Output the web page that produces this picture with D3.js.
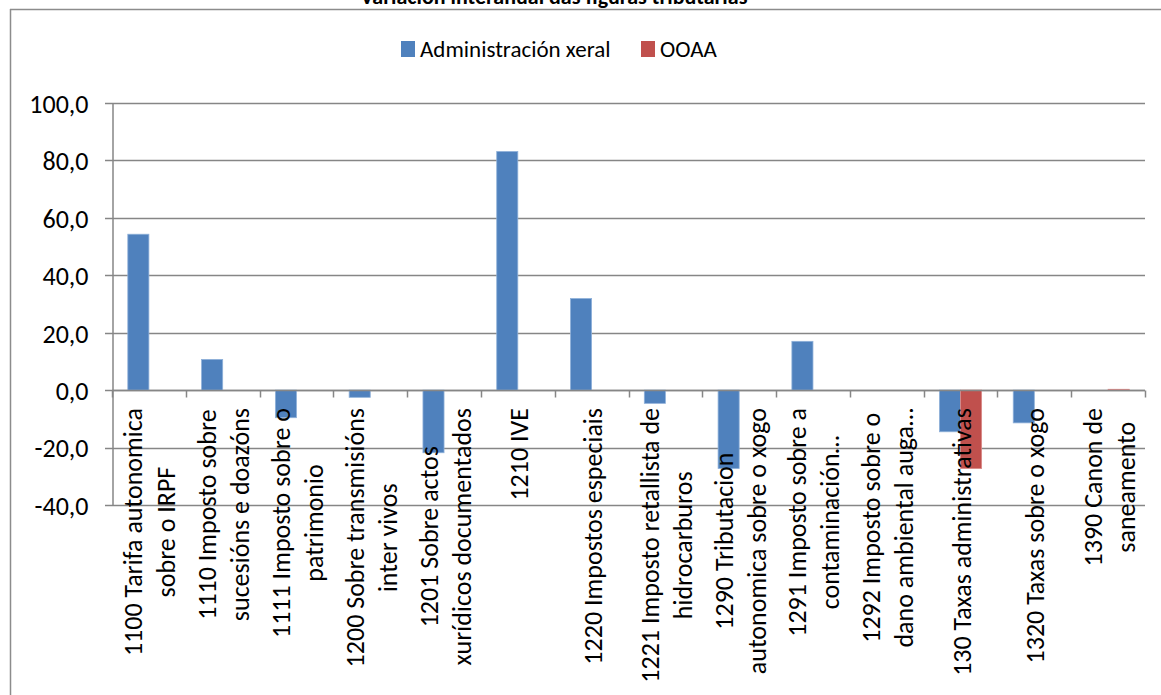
<!DOCTYPE html>
<html>
<head>
<meta charset="utf-8">
<script src="https://cdn.jsdelivr.net/npm/d3@7"></script>
<style>
  html, body { margin: 0; padding: 0; background: #fff; }
  svg text { font-family: Carlito, Lato, "Liberation Sans", sans-serif; }
</style>
</head>
<body>
<div id="chart"></div>
<script>
// data
var categories = [
  ["1100 Tarifa autonomica", "sobre o IRPF"],
  ["1110 Imposto sobre", "sucesións e doazóns"],
  ["1111 Imposto sobre o", "patrimonio"],
  ["1200 Sobre transmisións", "inter vivos"],
  ["1201 Sobre actos", "xurídicos documentados"],
  ["1210 IVE"],
  ["1220 Impostos especiais"],
  ["1221 Imposto retallista de", "hidrocarburos"],
  ["1290 Tributacion", "autonomica sobre o xogo"],
  ["1291 Imposto sobre a", "contaminación…"],
  ["1292 Imposto sobre o", "dano ambiental auga…"],
  ["130 Taxas administrativas"],
  ["1320 Taxas sobre o xogo"],
  ["1390 Canon de", "saneamento"]
];
var seriesNames = ["Administración xeral", "OOAA"];
var adminXeral = [54.3, 10.7, -9.6, -2.5, -21.8, 83.1, 31.9, -4.6, -27.3, 17.0, 0, -14.5, -11.4, 0];
var ooaa = [0, 0, 0, 0, 0, 0, 0, 0, 0, 0, 0, -27.3, 0, 0.3];
var yTicks = [-40, -20, 0, 20, 40, 60, 80, 100];

var colors = ["#4F81BD", "#C0504D"];
var edge = ["#8EB0D9", "#D98A88"];

var width = 1161, height = 695;
var margin = { top: 103, right: 16, bottom: 190, left: 112 };

var svg = d3.select("#chart")
    .append("svg")
    .attr("width", width)
    .attr("height", height);

// chart frame (only top and left are in the photo)
svg.append("line").attr("x1", 10).attr("x2", width).attr("y1", 9.5).attr("y2", 9.5)
    .style("stroke", "#8c8c8c").style("stroke-width", 1.5);
svg.append("line").attr("x1", 10.5).attr("x2", 10.5).attr("y1", 9).attr("y2", height)
    .style("stroke", "#8c8c8c").style("stroke-width", 1.5);

// title, cut off at the top like the original
svg.append("text")
    .text("Variación interanual das figuras tributarias")
    .attr("x", 554)
    .attr("y", 4)
    .attr("text-anchor", "middle")
    .style("font-weight", "bold")
    .style("font-size", "22px");

var x = d3.scaleBand()
    .domain(d3.range(categories.length))
    .range([margin.left, width - margin.right]);

var y = d3.scaleLinear()
    .domain([-40, 100])
    .range([505, margin.top]);

var bw = x.bandwidth() / 3.5;   // two series, gap width 150%
var xs = d3.scaleBand().domain([0, 1])
    .range([bw * 0.75, bw * 2.75]);

var g = svg.append("g");

// gridlines
g.selectAll(".grid").data(yTicks).enter()
    .append("line")
    .attr("x1", margin.left - 7)
    .attr("x2", width - margin.right)
    .attr("y1", function (d) { return Math.round(y(d)) + 0.5; })
    .attr("y2", function (d) { return Math.round(y(d)) + 0.5; })
    .style("stroke", "#868686")
    .style("stroke-width", 1.5);

// y axis
var yAxis = d3.axisLeft(y).tickValues(yTicks).tickSize(0).tickPadding(24)
    .tickFormat(function (d) { return d3.format(".1f")(d).replace(".", ",").replace("\u2212", "-"); });
var ya = g.append("g").attr("transform", "translate(" + (margin.left + 0.5) + ",0)").call(yAxis);
ya.select(".domain").style("stroke", "#868686").style("stroke-width", 1.5);
ya.selectAll("text").style("font-size", "26px").style("fill", "#000")
    .attr("dy", "0.36em");

// bars
var series = [adminXeral, ooaa];
series.forEach(function (vals, s) {
    g.selectAll(".bar" + s).data(vals).enter()
        .append("rect")
        .attr("x", function (d, i) { return x(i) + xs(s); })
        .attr("width", xs.bandwidth())
        .attr("y", function (d) { return y(Math.max(0, d)); })
        .attr("height", function (d) { return Math.abs(y(d) - y(0)); })
        .style("fill", colors[s])
        .style("stroke", edge[s])
        .style("stroke-width", 0.8);
});

// category axis on the zero line
var y0 = Math.round(y(0)) + 0.5;
var xa = g.append("g").attr("transform", "translate(0," + y0 + ")");
xa.append("line").attr("x1", margin.left).attr("x2", width - margin.right)
    .style("stroke", "#868686").style("stroke-width", 1.5);
xa.selectAll(".tk").data(d3.range(categories.length + 1)).enter()
    .append("line")
    .attr("x1", function (d) { return Math.round(margin.left + d * x.step()) + 0.5; })
    .attr("x2", function (d) { return Math.round(margin.left + d * x.step()) + 0.5; })
    .attr("y1", 0).attr("y2", 7)
    .style("stroke", "#868686").style("stroke-width", 1.5);

// rotated two-line labels, centred as a block
var lineH = 33;
categories.forEach(function (lines, i) {
    var cx = x(i) + x.bandwidth() / 2;
    var lg = svg.append("g")
        .attr("transform", "translate(" + cx + ",408) rotate(-90)");
    var texts = lines.map(function (t, k) {
        return lg.append("text")
            .text(t)
            .attr("text-anchor", "middle")
            .attr("y", 10 + (k - (lines.length - 1) / 2) * lineH)
            .style("font-size", "26px")
            .style("fill", "#000");
    });
    var L = d3.max(texts, function (t) { return t.node().getComputedTextLength(); });
    texts.forEach(function (t) { t.attr("x", -L / 2); });
});

// legend
var legend = svg.append("g");
var lx = [401, 641];
seriesNames.forEach(function (name, s) {
    legend.append("rect")
        .attr("x", lx[s]).attr("y", 41)
        .attr("width", 14).attr("height", 16)
        .style("fill", colors[s]);
    legend.append("text")
        .text(name)
        .attr("x", lx[s] + 19)
        .attr("y", 57)
        .style("font-size", "23px");
});
</script>
</body>
</html>
